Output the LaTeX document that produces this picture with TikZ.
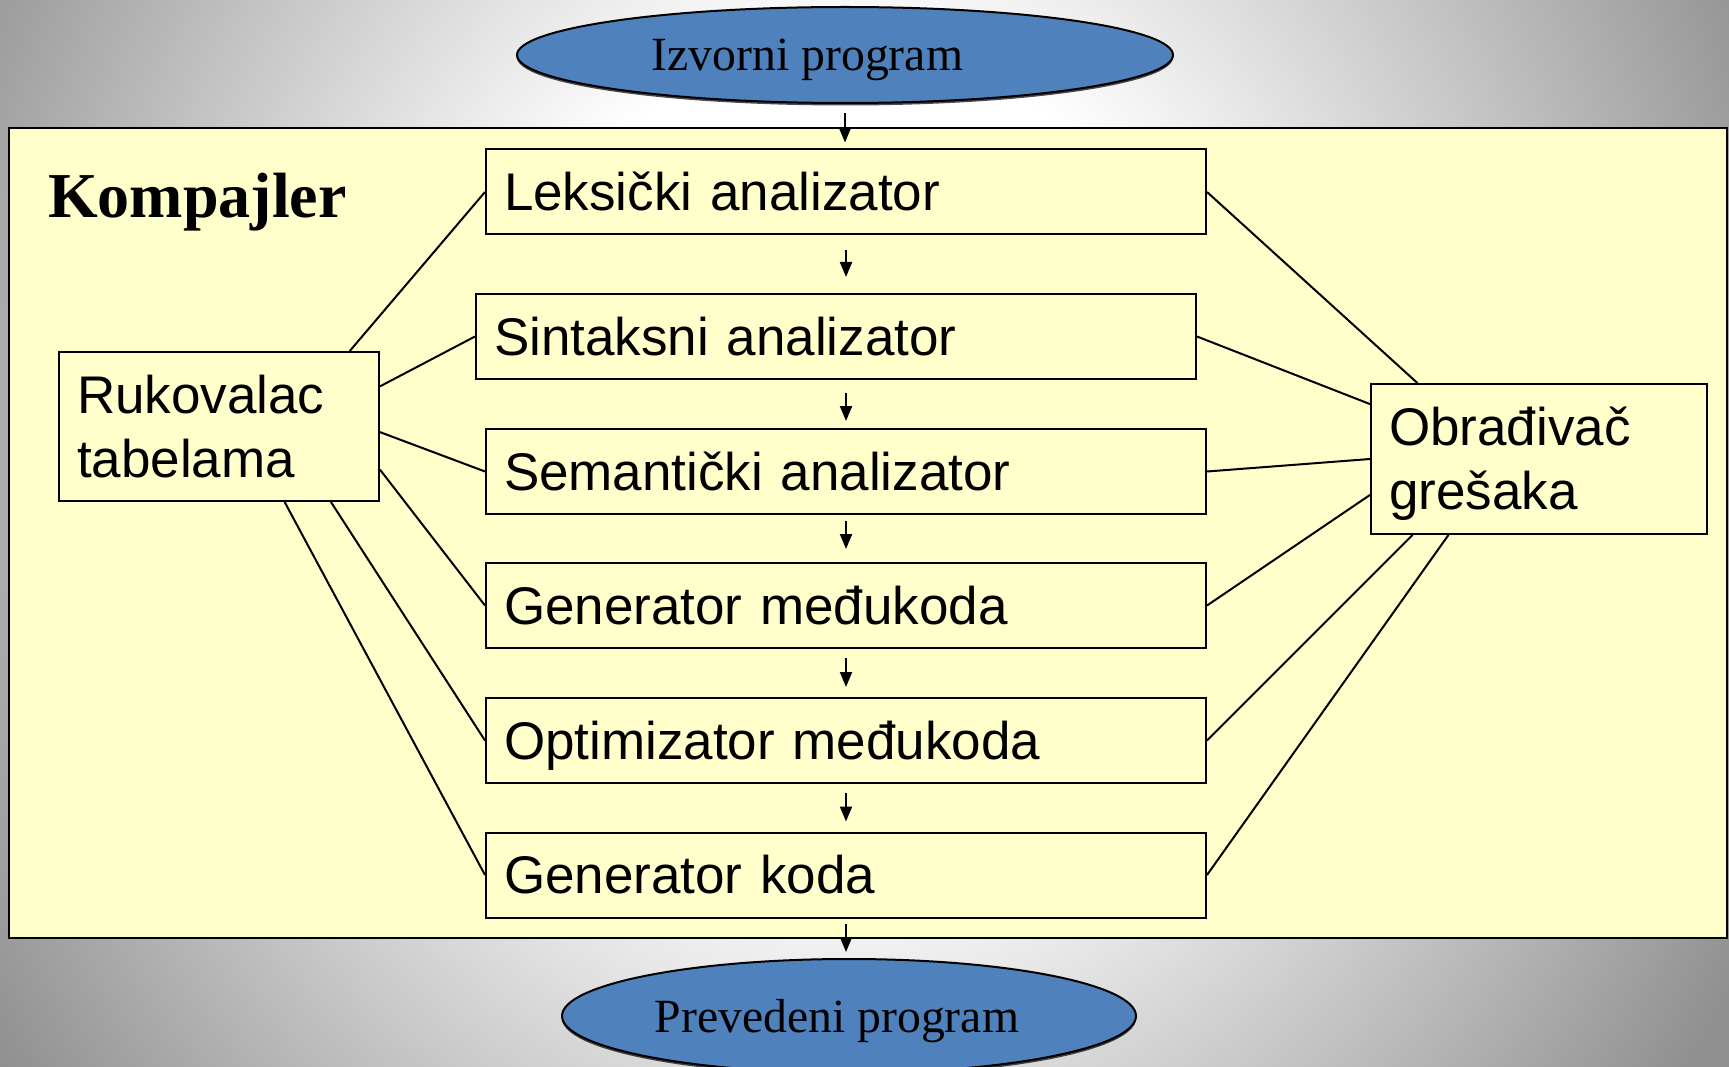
\documentclass[tikz,border=0pt]{standalone}
\usepackage{fontspec}
\setmainfont{Liberation Serif}
\newfontfamily\boxfont{Liberation Sans}
\usetikzlibrary{arrows.meta,calc,shapes.geometric,shadows}
\definecolor{paleyellow}{HTML}{FFFFCC}
\definecolor{ellblue}{HTML}{4F81BD}
\definecolor{bggray}{HTML}{909090}
\pgfdeclareradialshading{bgshade}{\pgfpoint{0bp}{0bp}}{color(0bp)=(white); color(10bp)=(white); color(28bp)=(bggray); color(50bp)=(bggray)}
\begin{document}
\begin{tikzpicture}[x=1pt,y=-1pt,
  stagebox/.style={draw, line width=2pt, fill=paleyellow, rectangle,
    minimum height=85pt, inner xsep=18pt, inner ysep=0pt, text width=684pt,
    align=left, font=\boxfont\fontsize{53}{64}\selectfont,
    text height=37pt, text depth=0pt},
  sidebox/.style={stagebox, minimum height=150pt, text depth=64pt},
  ellnode/.style={draw, line width=2pt, fill=ellblue, ellipse, inner sep=0pt,
    font=\fontsize{47.7}{57}\selectfont, text height=32pt, text depth=0pt,
    drop shadow={shadow xshift=0pt, shadow yshift=-2.5pt, fill=black, opacity=0.7}},
  outerbox/.style={draw, line width=2.5pt, fill=paleyellow, rectangle, inner sep=0pt},
  arr/.style={line width=2pt, -{Triangle[length=15pt,width=12pt]}},
  link/.style={line width=2pt}]
\useasboundingbox (0,0) rectangle (1729,1067);
\begin{scope}
  \clip (0,0) rectangle (1729,1067);
  \shade[shading=bgshade] (-55,-550) rectangle (1745,1450);
\end{scope}

\node[outerbox, minimum width=1718pt, minimum height=810pt] (komp) at (868,533) {};
\node[anchor=base west, inner sep=0pt, font=\bfseries\fontsize{64}{72}\selectfont] (kname) at (48,218) {Kompajler};

\node[ellnode, minimum width=656pt, minimum height=96pt] (src) at (845,55) {Izvorni program\hspace*{75pt}};
\node[ellnode, minimum width=574pt, minimum height=114pt] (dst) at (849,1016) {Prevedeni program\hspace*{24pt}};

\node[stagebox] (lek) at (846,192) {Leksički analizator};
\node[stagebox] (sin) at (836,336.5) {Sintaksni analizator};
\node[stagebox] (sem) at (846,471.5) {Semantički analizator};
\node[stagebox] (gm) at (846,605.5) {Generator međukoda};
\node[stagebox] (opt) at (846,740.5) {Optimizator međukoda};
\node[stagebox] (gk) at (846,875) {Generator koda};

\node[sidebox, text width=284pt, minimum height=149pt] (ruk) at (219,426.5) {Rukovalac\\tabelama};
\node[sidebox, text width=300pt] (obr) at (1539,459) {Obrađivač\\grešaka};

% flow arrows
\draw[arr, shorten <=9pt, shorten >=6pt] (src.south) -- (src.south |- lek.north);
\draw[arr, shorten <=15pt, shorten >=16pt] (lek.south) -- (lek.south |- sin.north);
\draw[arr, shorten <=13pt, shorten >=7pt] (lek.south |- sin.south) -- (sem.north);
\draw[arr, shorten <=6pt, shorten >=13pt] (sem.south) -- (gm.north);
\draw[arr, shorten <=9pt, shorten >=10pt] (gm.south) -- (opt.north);
\draw[arr, shorten <=9pt, shorten >=10pt] (opt.south) -- (gk.north);
\draw[arr, shorten <=5pt, shorten >=6pt] (gk.south) -- (gk.south |- dst.north);

% table handler links
\draw[link] (ruk.30.4) -- (lek.west);
\draw[link] (ruk.14.9) -- (sin.west);
\draw[link] (ruk.-2.3) -- (sem.west);
\draw[link] (ruk.-15.9) -- (gm.west);
\draw[link] (ruk.-34.5) -- (opt.west);
\draw[link] (ruk.-49.7) -- (gk.west);

% error handler links
\draw[link] (obr.148.2) -- (lek.east);
\draw[link] (obr.162.8) -- (sin.east);
\draw[link] (obr.west) -- (sem.east);
\draw[link] (obr.192.4) -- (gm.east);
\draw[link] (obr.211.8) -- (opt.east);
\draw[link] (obr.220.4) -- (gk.east);
\end{tikzpicture}
\end{document}
